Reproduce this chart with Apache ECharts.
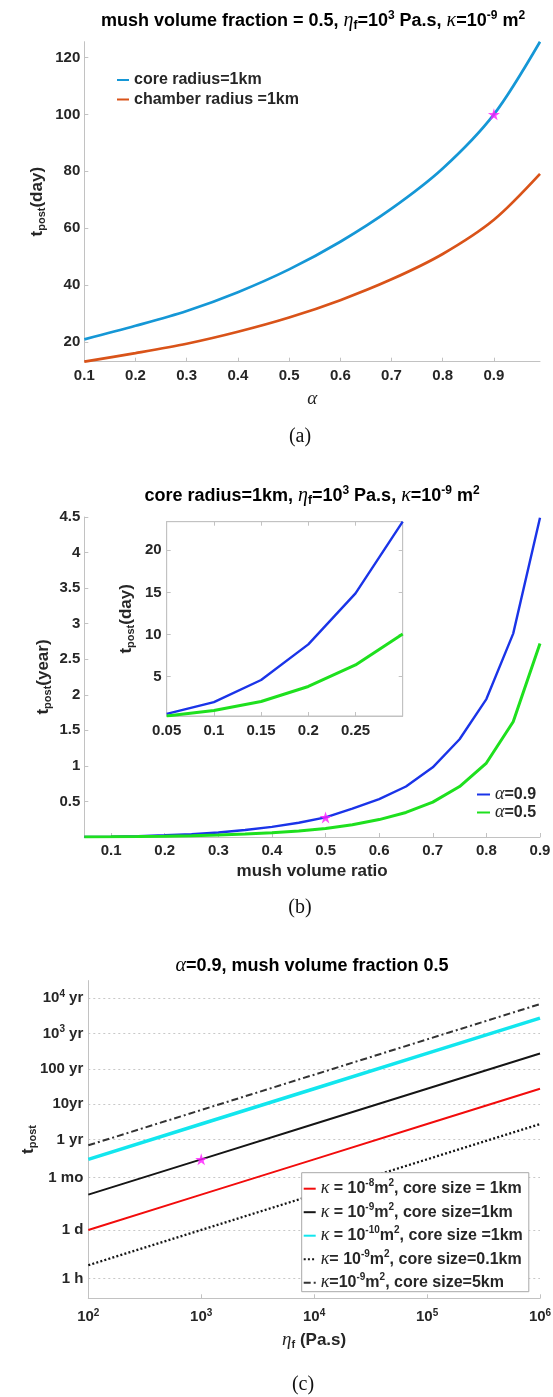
<!DOCTYPE html>
<html><head><meta charset="utf-8">
<script src="https://cdn.jsdelivr.net/npm/echarts@6/dist/echarts.min.js"></script>
<style>html,body{margin:0;padding:0;background:#fff}#c{width:553px;height:1397px}</style>
</head><body><div id="c"></div>
<script>
// ---------- panel (a) data ----------
const alphaA = [0.1, 0.2, 0.3, 0.4, 0.5, 0.6, 0.7, 0.8, 0.9, 0.99];
const coreRadius1kmDays = [21.05, 25.8, 31.0, 37.6, 45.6, 55.3, 66.9, 81.0, 100, 125.5];
const chamberRadius1kmDays = [13.2, 16.2, 19.5, 23.7, 28.7, 34.8, 42.1, 51.0, 63.0, 79.1];
const aXTicks = [0.1, 0.2, 0.3, 0.4, 0.5, 0.6, 0.7, 0.8, 0.9];
const aYTicks = [20, 40, 60, 80, 100, 120];

// ---------- panel (b) data ----------
const mushRatio = [0.05, 0.1, 0.15, 0.2, 0.25, 0.3, 0.35, 0.4, 0.45, 0.5, 0.55, 0.6, 0.65, 0.7, 0.75, 0.8, 0.85, 0.9];
const alpha09Years = [0.0016, 0.0054, 0.0126, 0.0242, 0.0408, 0.0641, 0.098, 0.143, 0.2, 0.275, 0.40, 0.533, 0.71, 0.98, 1.375, 1.94, 2.86, 4.49];
const alpha05Years = [0.0009, 0.00266, 0.0056, 0.0105, 0.0175, 0.0276, 0.041, 0.059, 0.083, 0.12, 0.172, 0.245, 0.345, 0.49, 0.71, 1.04, 1.62, 2.72];
const bXTicks = [0.1, 0.2, 0.3, 0.4, 0.5, 0.6, 0.7, 0.8, 0.9];
const bYTicks = [0.5, 1, 1.5, 2, 2.5, 3, 3.5, 4, 4.5];
const insetCount = 6; // mush ratio 0.05 .. 0.3 shown in the inset (days)
const insetXTicks = [0.05, 0.1, 0.15, 0.2, 0.25];
const insetYTicks = [5, 10, 15, 20];
const DAYS_PER_YEAR = 365;

// ---------- panel (c) data (t_post in days) ----------
const etaF = [1e2, 1e3, 1e4, 1e5, 1e6];
const kappa8Core1km = [1, 10, 100, 1000, 10000];
const kappa9Core1km = [10, 100, 1000, 10000, 100000];
const kappa10Core1km = [100, 1000, 10000, 100000, 1000000];
const kappa9Core01km = [0.1, 1, 10, 100, 1000];
const kappa9Core5km = [250, 2500, 25000, 250000, 2500000];
const cYTickDays = [1 / 24, 1, 365.25 / 12, 365.25, 3652.5, 36525, 365250, 3652500];
const cYTickLabels = ['{n|1 h}', '{n|1 d}', '{n|1 mo}', '{n|1 yr}', '{n|10yr}', '{n|100 yr}', '{n|10}{sup|3}{n| yr}', '{n|10}{sup|4}{n| yr}'];

// ---------- styling ----------
const AX = '#c2c2c2', TXT = '#262626';
const SANS = '"Liberation Sans", Arial, Helvetica, sans-serif';
const SERIF = '"Liberation Serif", "Times New Roman", serif';
const STAR = 'path://M50,2 L61.8,38.2 L99,38.2 L69,60.2 L80.9,96.3 L50,74 L19.1,96.3 L31,60.2 L1,38.2 L38.2,38.2 Z';
const NO_SYMBOL = { color: 'rgba(0,0,0,0)', borderWidth: 0, opacity: 0 };

function mkRich(sz, lh) {
  lh = lh || Math.round(sz * 1.2);
  return {
    n: { fontFamily: SANS, fontWeight: 'bold', fontSize: sz, color: TXT, lineHeight: lh },
    g: { fontFamily: SERIF, fontStyle: 'italic', fontSize: sz + 2, color: TXT, lineHeight: lh },
    sub: { fontFamily: SANS, fontWeight: 'bold', fontSize: Math.round(sz * 0.65), color: TXT, lineHeight: Math.round(sz * 0.5), verticalAlign: 'bottom' },
    sup: { fontFamily: SANS, fontWeight: 'bold', fontSize: Math.round(sz * 0.65), color: TXT, lineHeight: Math.round(sz * 0.5), verticalAlign: 'top' }
  };
}
const zip = (xs, ys) => xs.map((x, i) => [x, ys[i]]);

function valueAxis(grid, min, max, ticks, extra) {
  return Object.assign({
    type: 'value', gridIndex: grid, min: min, max: max, scale: true,
    axisLine: { show: true, lineStyle: { color: AX, width: 1 } },
    axisTick: { show: true, inside: true, length: 4, lineStyle: { color: AX }, customValues: ticks },
    axisLabel: { show: true, customValues: ticks, color: TXT, fontFamily: SANS, fontWeight: 'bold', fontSize: 15, margin: 6, hideOverlap: false },
    splitLine: { show: false },
    nameLocation: 'middle', nameMoveOverlap: false
  }, extra || {});
}

const insetBlue = zip(mushRatio.slice(0, insetCount), alpha09Years.slice(0, insetCount).map(v => v * DAYS_PER_YEAR));
const insetGreen = zip(mushRatio.slice(0, insetCount), alpha05Years.slice(0, insetCount).map(v => v * DAYS_PER_YEAR));
const insetVals = insetBlue.concat(insetGreen).map(p => p[1]);

const cMinDays = 1e3 / 86400, cMaxDays = 1e12 / 86400;

const option = {
  animation: false,
  backgroundColor: '#fff',
  textStyle: { fontFamily: SANS },
  grid: [
    { left: 84.3, top: 41.7, width: 455.7, height: 320, outerBoundsMode: 'none', containLabel: false },
    { left: 84.3, top: 517, width: 455.7, height: 320, outerBoundsMode: 'none', containLabel: false },
    { left: 166.7, top: 521.7, width: 236, height: 194.3, outerBoundsMode: 'none', containLabel: false, show: true, borderColor: AX, borderWidth: 1, backgroundColor: '#fff' },
    { left: 88.3, top: 980.6, width: 451.7, height: 317.7, outerBoundsMode: 'none', containLabel: false }
  ],
  xAxis: [
    valueAxis(0, 0.1, 0.99, aXTicks, { name: '{g|α}', nameGap: 27, nameTextStyle: { rich: mkRich(17, 20) }, axisLabel: { customValues: aXTicks, color: TXT, fontFamily: SANS, fontWeight: 'bold', fontSize: 15, margin: 7 } }),
    valueAxis(1, 0.05, 0.9, bXTicks, { name: '{n|mush volume ratio}', nameGap: 24, nameTextStyle: { rich: mkRich(17, 20) }, axisLabel: { customValues: bXTicks, color: TXT, fontFamily: SANS, fontWeight: 'bold', fontSize: 15, margin: 6 } }),
    valueAxis(2, 0.05, 0.3, insetXTicks, { axisLabel: { customValues: insetXTicks, color: TXT, fontFamily: SANS, fontWeight: 'bold', fontSize: 15, margin: 7 } }),
    valueAxis(2, 0.05, 0.3, insetXTicks, { position: 'top', axisLabel: { show: false } }),
    {
      type: 'log', logBase: 10, gridIndex: 3, min: 1e2, max: 1e6,
      axisLine: { show: true, lineStyle: { color: AX } },
      axisTick: { show: true, inside: true, length: 4, lineStyle: { color: AX } },
      axisLabel: {
        color: TXT, margin: 10, hideOverlap: false, showMinLabel: true, showMaxLabel: true,
        formatter: v => '{n|10}{sup|' + Math.round(Math.log10(v)) + '}',
        rich: mkRich(15, 18)
      },
      splitLine: { show: false }, minorTick: { show: false },
      name: '{g|η}{sub|f}{n| (Pa.s)}', nameLocation: 'middle', nameGap: 32, nameMoveOverlap: false,
      nameTextStyle: { rich: mkRich(17, 20) }
    }
  ],
  yAxis: [
    valueAxis(0, 13.2, 125.5, aYTicks, { name: '{n|t}{sub|post}{n|(day)}', nameGap: 37, nameTextStyle: { rich: mkRich(17, 20) }, axisLabel: { customValues: aYTicks, color: TXT, fontFamily: SANS, fontWeight: 'bold', fontSize: 15, margin: 4 } }),
    valueAxis(1, 0, 4.5, bYTicks, { name: '{n|t}{sub|post}{n|(year)}', nameGap: 31, nameTextStyle: { rich: mkRich(17, 20) }, axisLabel: { customValues: bYTicks, color: TXT, fontFamily: SANS, fontWeight: 'bold', fontSize: 15, margin: 4 } }),
    valueAxis(2, Math.min.apply(null, insetVals), Math.max.apply(null, insetVals), insetYTicks, { name: '{n|t}{sub|post}{n|(day)}', nameGap: 30, nameTextStyle: { rich: mkRich(17, 20) }, axisLabel: { customValues: insetYTicks, color: TXT, fontFamily: SANS, fontWeight: 'bold', fontSize: 15, margin: 5 } }),
    valueAxis(2, Math.min.apply(null, insetVals), Math.max.apply(null, insetVals), insetYTicks, { position: 'right', axisLabel: { show: false } }),
    {
      type: 'log', logBase: 10, gridIndex: 3, min: cMinDays, max: cMaxDays,
      axisLine: { show: true, lineStyle: { color: AX } },
      axisTick: { show: false, customValues: cYTickDays },
      axisLabel: {
        customValues: cYTickDays, color: TXT, margin: 5, hideOverlap: false,
        formatter: v => {
          const i = cYTickDays.findIndex(t => Math.abs(Math.log10(t) - Math.log10(v)) < 1e-3);
          return i >= 0 ? cYTickLabels[i] : '';
        },
        rich: mkRich(15, 18)
      },
      splitLine: { show: true, lineStyle: { color: '#c8c8c8', type: [2, 3], width: 1 } },
      minorTick: { show: false },
      name: '{n|t}{sub|post}', nameLocation: 'middle', nameGap: 50, nameMoveOverlap: false,
      nameTextStyle: { rich: mkRich(17, 20) }
    }
  ],
  legend: [
    {
      data: ['core radius=1km', 'chamber radius =1km'], orient: 'vertical', left: 116, top: 71, padding: 0,
      itemWidth: 12, itemHeight: 10, itemGap: 1.5, selectedMode: false, itemStyle: NO_SYMBOL,
      textStyle: { color: TXT, fontFamily: SANS, fontWeight: 'bold', fontSize: 16, lineHeight: 18 }
    },
    {
      data: ['α=0.9', 'α=0.5'], orient: 'vertical', left: 476, top: 785.5, padding: 0,
      itemWidth: 13, itemHeight: 10, itemGap: 0, selectedMode: false, itemStyle: NO_SYMBOL,
      formatter: name => '{g|α}{n|' + name.slice(1) + '}',
      textStyle: { rich: mkRich(16, 19) }
    },
    {
      data: ['κ = 10^-8 m^2, core size = 1km', 'κ = 10^-9 m^2, core size=1km', 'κ = 10^-10 m^2, core size =1km', 'κ= 10^-9 m^2, core size=0.1km', 'κ=10^-9 m^2, core size=5km'],
      orient: 'vertical', left: 301.7, top: 1172.7, padding: [6, 6, 0, 1],
      itemWidth: 12, itemHeight: 10, itemGap: 4.5, selectedMode: false, itemStyle: NO_SYMBOL,
      backgroundColor: '#fff', borderColor: '#a8a8a8', borderWidth: 1,
      formatter: name => {
        const m = name.match(/^κ( ?= ?)10\^(-?\d+) m\^2(.*)$/);
        return '{g|κ}{n|' + m[1] + '10}{sup|' + m[2] + '}{n|m}{sup|2}{n|' + m[3] + '}';
      },
      textStyle: { rich: mkRich(16, 20) }
    }
  ],
  series: [
    // (a)
    { type: 'line', name: 'core radius=1km', xAxisIndex: 0, yAxisIndex: 0, data: zip(alphaA, coreRadius1kmDays), symbol: 'none', smooth: 0.3, color: '#1597d6', lineStyle: { color: '#1597d6', width: 2.7 } },
    { type: 'line', name: 'chamber radius =1km', xAxisIndex: 0, yAxisIndex: 0, data: zip(alphaA, chamberRadius1kmDays), symbol: 'none', smooth: 0.3, color: '#d95319', lineStyle: { color: '#d95319', width: 2.7 } },
    { type: 'scatter', name: 'pointA', xAxisIndex: 0, yAxisIndex: 0, data: [[alphaA[8], coreRadius1kmDays[8]]], symbol: STAR, symbolSize: 12, itemStyle: { color: '#ff1aff' }, z: 5, silent: true },
    // (b) main
    { type: 'line', name: 'α=0.9', xAxisIndex: 1, yAxisIndex: 1, data: zip(mushRatio, alpha09Years), symbol: 'none', color: '#1a34e8', lineStyle: { color: '#1a34e8', width: 2.4 } },
    { type: 'line', name: 'α=0.5', xAxisIndex: 1, yAxisIndex: 1, data: zip(mushRatio, alpha05Years), symbol: 'none', color: '#1ee01e', lineStyle: { color: '#1ee01e', width: 3 } },
    { type: 'scatter', name: 'pointB', xAxisIndex: 1, yAxisIndex: 1, data: [[mushRatio[9], alpha09Years[9]]], symbol: STAR, symbolSize: 12, itemStyle: { color: '#ff1aff' }, z: 5, silent: true },
    // (b) inset
    { type: 'line', name: 'inset α=0.9', xAxisIndex: 2, yAxisIndex: 2, data: insetBlue, symbol: 'none', color: '#1a34e8', lineStyle: { color: '#1a34e8', width: 2.4 } },
    { type: 'line', name: 'inset α=0.5', xAxisIndex: 2, yAxisIndex: 2, data: insetGreen, symbol: 'none', color: '#1ee01e', lineStyle: { color: '#1ee01e', width: 3 } },
    // (c)
    { type: 'line', name: 'κ = 10^-8 m^2, core size = 1km', xAxisIndex: 4, yAxisIndex: 4, data: zip(etaF, kappa8Core1km), symbol: 'none', color: '#f20c0c', lineStyle: { color: '#f20c0c', width: 2 } },
    { type: 'line', name: 'κ = 10^-9 m^2, core size=1km', xAxisIndex: 4, yAxisIndex: 4, data: zip(etaF, kappa9Core1km), symbol: 'none', color: '#151515', lineStyle: { color: '#151515', width: 2 } },
    { type: 'line', name: 'κ = 10^-10 m^2, core size =1km', xAxisIndex: 4, yAxisIndex: 4, data: zip(etaF, kappa10Core1km), symbol: 'none', color: '#12e6ee', lineStyle: { color: '#12e6ee', width: 3.5 } },
    { type: 'line', name: 'κ= 10^-9 m^2, core size=0.1km', xAxisIndex: 4, yAxisIndex: 4, data: zip(etaF, kappa9Core01km), symbol: 'none', color: '#151515', lineStyle: { color: '#151515', width: 2.3, type: [2, 2.2] } },
    { type: 'line', name: 'κ=10^-9 m^2, core size=5km', xAxisIndex: 4, yAxisIndex: 4, data: zip(etaF, kappa9Core5km), symbol: 'none', color: '#333333', lineStyle: { color: '#333333', width: 2, type: [7, 3, 2, 3] } },
    { type: 'scatter', name: 'pointC', xAxisIndex: 4, yAxisIndex: 4, data: [[etaF[1], kappa9Core1km[1]]], symbol: STAR, symbolSize: 12, itemStyle: { color: '#ff1aff' }, z: 5, silent: true }
  ],
  graphic: {
    elements: [
      { type: 'text', x: 313, y: 21, style: { text: '{n|mush volume fraction = 0.5, }{g|η}{sub|f}{n|=10}{sup|3}{n| Pa.s, }{g|κ}{n|=10}{sup|-9}{n| m}{sup|2}', rich: mkRich(18, 22), align: 'center', verticalAlign: 'middle' } },
      { type: 'text', x: 312, y: 496, style: { text: '{n|core radius=1km, }{g|η}{sub|f}{n|=10}{sup|3}{n| Pa.s, }{g|κ}{n|=10}{sup|-9}{n| m}{sup|2}', rich: mkRich(18, 22), align: 'center', verticalAlign: 'middle' } },
      { type: 'text', x: 312, y: 966, style: { text: '{g|α}{n|=0.9, mush volume fraction 0.5}', rich: mkRich(18, 22), align: 'center', verticalAlign: 'middle' } },
      { type: 'text', x: 300, y: 437, style: { text: '(a)', font: '20px "Liberation Serif", serif', fill: '#111', align: 'center', verticalAlign: 'middle' } },
      { type: 'text', x: 300, y: 908, style: { text: '(b)', font: '20px "Liberation Serif", serif', fill: '#111', align: 'center', verticalAlign: 'middle' } },
      { type: 'text', x: 303, y: 1385, style: { text: '(c)', font: '20px "Liberation Serif", serif', fill: '#111', align: 'center', verticalAlign: 'middle' } }
    ]
  }
};

const chart = echarts.init(document.getElementById('c'), null, { renderer: 'canvas', width: 553, height: 1397 });
chart.setOption(option);
</script>
</body></html>
